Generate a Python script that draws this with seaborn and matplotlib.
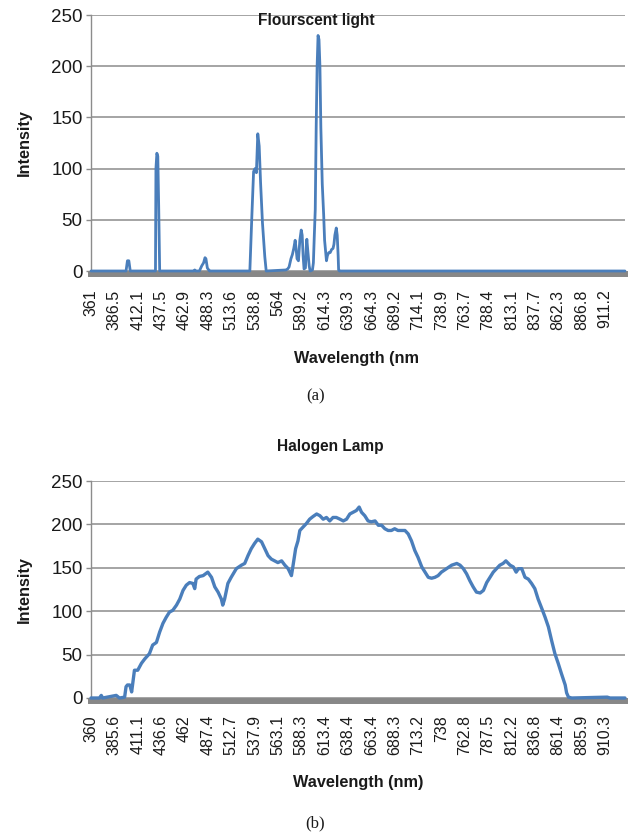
import matplotlib
matplotlib.use("Agg")
import matplotlib.pyplot as plt
import seaborn as sns
import pandas as pd
import numpy as np

# Spectrometer readings: detector pixel index and measured intensity
fluor_pixel = [0, 75, 78, 81, 84, 138, 139, 141, 143, 145, 147,
               220, 222, 224, 232, 237, 241, 244, 246, 249, 252, 254,
               340, 344, 348, 351, 354, 357, 360, 363, 367, 372, 375,
               417, 421, 424, 428, 431, 434, 437, 439, 441, 444, 447, 450,
               452, 454, 456, 459, 461, 462, 464, 467, 469, 474, 476, 478,
               480, 482, 484, 486, 488, 490, 492, 495, 498, 500, 504, 506,
               509, 512, 515, 518, 520, 522, 525, 527, 529, 530, 532, 1143]
fluor_intensity = [0, 0, 10, 10, 0, 0, 100, 115, 112, 60, 0,
                   0, 1, 0, 0, 5, 8, 13, 12, 3, 1, 0,
                   0, 50, 97, 100, 96, 134, 122, 86, 47, 14, 0,
                   1, 2, 4, 12, 16, 22, 30, 22, 12, 10, 30, 40,
                   35, 15, 2, 3, 25, 31, 20, 5, 0, 1, 8, 35,
                   60, 140, 200, 230, 226, 200, 140, 85, 55, 30, 10, 15,
                   18, 18, 21, 22, 26, 35, 42, 35, 15, 1, 0, 0]

halogen_pixel = [0, 18, 22, 25, 54, 61, 72, 75, 78, 83, 87, 93, 100, 108,
                 115, 125, 132, 140, 147, 154, 161, 168, 175, 183, 190, 197,
                 204, 211, 218, 222, 225, 232, 240, 250, 258, 265, 272, 279,
                 282, 286, 293, 300, 311, 322, 329, 336, 343, 350, 357, 365,
                 372, 379, 386, 393, 400, 408, 415, 422, 429, 432, 438, 443,
                 447, 454, 461, 468, 475, 483, 490, 497, 504, 511, 518, 525,
                 533, 540, 547, 554, 561, 568, 574, 579, 586, 593, 600, 608,
                 615, 622, 629, 636, 643, 650, 657, 665, 672, 679, 686, 693,
                 700, 708, 715, 722, 729, 736, 743, 750, 761, 772, 783, 790,
                 797, 804, 811, 818, 825, 833, 840, 847, 854, 861, 868, 875,
                 882, 888, 897, 904, 910, 915, 922, 929, 936, 943, 950, 957,
                 965, 972, 979, 986, 993, 1000, 1007, 1015, 1018, 1022, 1029,
                 1105, 1111, 1143]
halogen_intensity = [0, 0, 3, 0, 3, 0, 1, 13, 15, 15, 7, 32, 32, 40,
                     45, 51, 61, 64, 76, 86, 93, 99, 101, 107, 114, 124,
                     130, 133, 132, 126, 137, 140, 141, 145, 139, 128, 122, 114,
                     107, 114, 132, 139, 149, 153, 155, 164, 172, 178, 183, 180,
                     172, 164, 160, 158, 156, 158, 153, 149, 141, 151, 172, 181,
                     193, 197, 201, 206, 209, 212, 210, 206, 208, 204, 208, 208,
                     206, 204, 206, 212, 214, 216, 220, 214, 210, 204, 203, 204,
                     199, 199, 195, 193, 193, 195, 193, 193, 193, 189, 181, 170,
                     162, 151, 145, 139, 138, 139, 141, 145, 149, 153, 155, 153,
                     149, 143, 135, 128, 122, 121, 124, 133, 139, 145, 149, 153,
                     155, 158, 153, 151, 145, 149, 149, 139, 137, 132, 126, 114,
                     103, 93, 82, 66, 51, 40, 28, 15, 6, 1, 0,
                     1, 0, 0]

# Wavelength labels shown every 50 detector pixels
fluor_ticks = ["361", "386.5", "412.1", "437.5", "462.9", "488.3", "513.6",
               "538.8", "564", "589.2", "614.3", "639.3", "664.3", "689.2",
               "714.1", "738.9", "763.7", "788.4", "813.1", "837.7", "862.3",
               "886.8", "911.2"]
halogen_ticks = ["360", "385.6", "411.1", "436.6", "462", "487.4", "512.7",
                 "537.9", "563.1", "588.3", "613.4", "638.4", "663.4", "688.3",
                 "713.2", "738", "762.8", "787.5", "812.2", "836.8", "861.4",
                 "885.9", "910.3"]
TICK_STEP = 50
N_PIXELS = 1143

sns.set_style("white")
plt.rcParams["font.family"] = ["Liberation Sans", "DejaVu Sans"]

W, H = 630, 832
fig = plt.figure(figsize=(W / 100, H / 100), dpi=100)

LINE = "#4a7ebb"
GRID = "#8c8c8c"
TXT = "#1a1a1a"


def px_text(x, y, s, **kw):
    fig.text(x / W, 1 - y / H, s, ha="center", va="center", color=TXT, **kw)


def spectrum_panel(rect, pixels, values, ticks, lw, label_pad):
    ax = fig.add_axes(rect)
    df = pd.DataFrame({"pixel": pixels, "intensity": values})
    sns.lineplot(data=df, x="pixel", y="intensity", ax=ax, color=LINE,
                 linewidth=lw, zorder=3, clip_on=False)
    ax.set_xlim(0, N_PIXELS)
    ax.set_ylim(0, 250)
    ax.set_yticks(np.arange(0, 251, 50))
    ax.set_xticks(np.arange(len(ticks)) * TICK_STEP)
    ax.set_xticklabels(ticks)
    ax.tick_params(axis="x", length=0, pad=label_pad, labelrotation=90,
                   labelsize=11.5, labelcolor=TXT)
    ax.tick_params(axis="y", length=3.6, width=1, color=GRID, pad=2.4,
                   labelsize=13.5, labelcolor=TXT, left=True)
    ax.grid(axis="y", color=GRID, linewidth=1.1)
    ax.set_axisbelow(True)
    for side in ("top", "right"):
        ax.spines[side].set_visible(False)
    ax.spines["left"].set_color(GRID)
    ax.spines["left"].set_linewidth(1)
    ax.spines["bottom"].set_color("#878787")
    ax.spines["bottom"].set_linewidth(4.3)
    ax.spines["bottom"].set_position(("outward", 2.5))
    ax.spines["bottom"].set_zorder(2.6)
    ax.set_xlabel("")
    ax.set_ylabel("")
    return ax


spectrum_panel([91 / W, 1 - 271 / H, 534 / W, 256 / H],
               fluor_pixel, fluor_intensity, fluor_ticks, 2.0, 11.0)
spectrum_panel([91 / W, 1 - 698 / H, 534 / W, 217 / H],
               halogen_pixel, halogen_intensity, halogen_ticks, 2.4, 9.8)

# Panel titles, axis titles and captions
px_text(316, 21, "Flourscent light", fontsize=11.2, fontweight="bold")
px_text(24, 143, "Intensity", fontsize=11.7, fontweight="bold", rotation=90)
px_text(357, 358, "Wavelength (nm", fontsize=11.7, fontweight="bold")
px_text(315.5, 396, "(a)", fontsize=12, family=["Liberation Serif", "DejaVu Serif"])

px_text(330, 447, "Halogen Lamp", fontsize=11.2, fontweight="bold")
px_text(24, 590, "Intensity", fontsize=11.7, fontweight="bold", rotation=90)
px_text(358, 783, "Wavelength (nm)", fontsize=11.7, fontweight="bold")
px_text(315.5, 823, "(b)", fontsize=12, family=["Liberation Serif", "DejaVu Serif"])

fig.savefig("out.png", dpi=100, facecolor="white")
